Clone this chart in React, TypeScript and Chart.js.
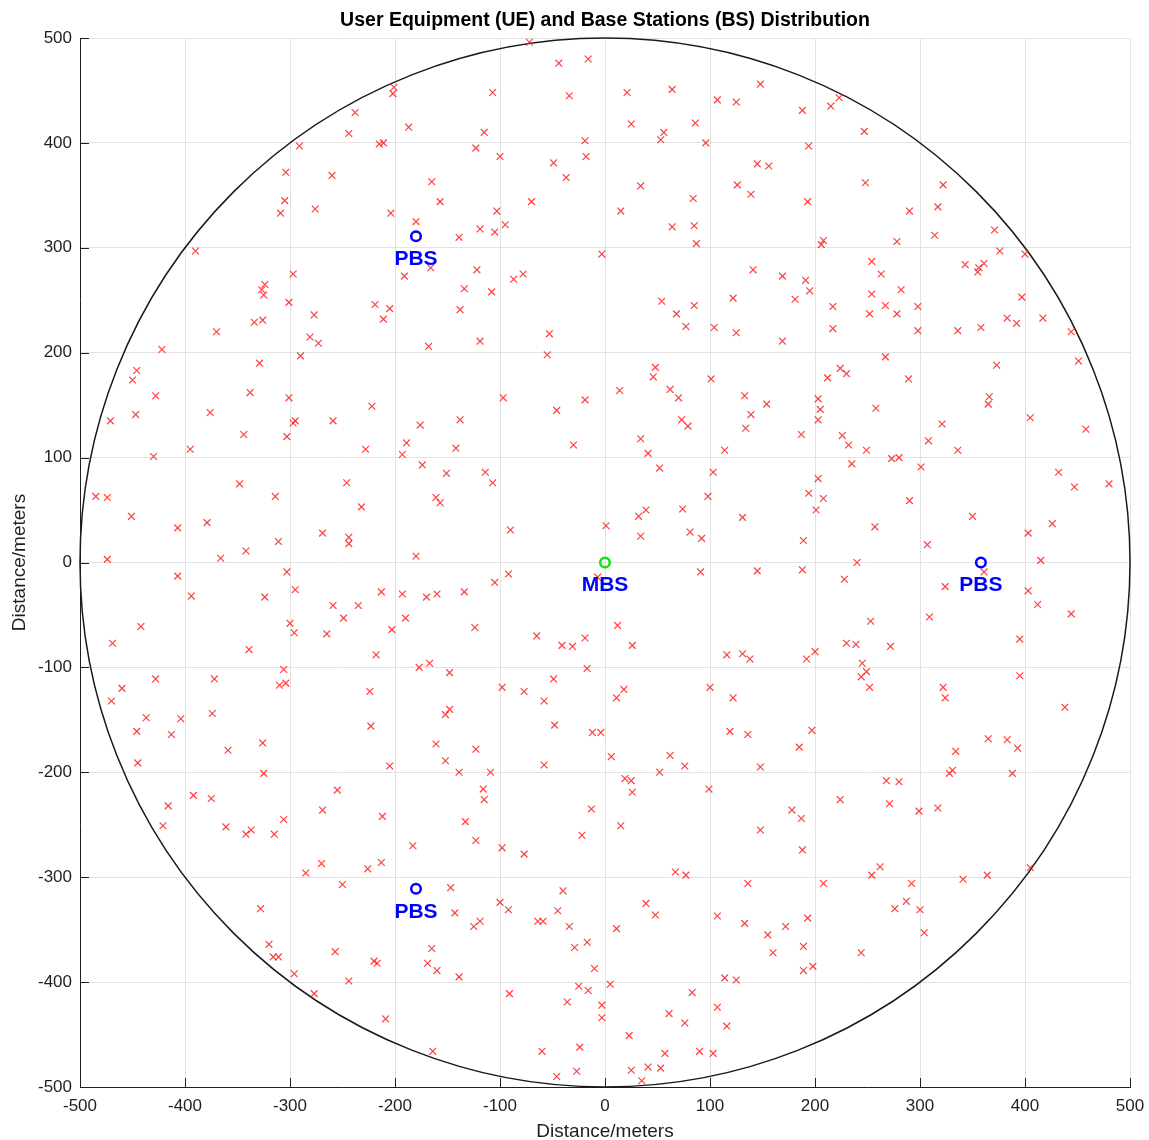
import { useEffect, useRef } from "react";
import { Chart, registerables } from "chart.js";

Chart.register(...registerables);

const TITLE = "User Equipment (UE) and Base Stations (BS) Distribution";
const X_LABEL = "Distance/meters";
const Y_LABEL = "Distance/meters";
const X_TICKS = [-500, -400, -300, -200, -100, 0, 100, 200, 300, 400, 500];
const Y_TICKS = [-500, -400, -300, -200, -100, 0, 100, 200, 300, 400, 500];
const CELL_RADIUS = 500;

const mbsX = [0];
const mbsY = [0];
const mbsLabels = ["MBS"];

const pbsX = [-180, -180, 358];
const pbsY = [311, -311, 0];
const pbsLabels = ["PBS", "PBS", "PBS"];

// UE positions [x, y] in meters
const uePoints: [number, number][] = [
  [-291, 397], [-304, 372], [-260, 369], [-305, 345], [-309, 333], [-276, 337], [-390, 297], [-297, 275],
  [-324, 265], [-327, 260], [-325, 255], [-301, 248], [-277, 236], [-326, 231], [-334, 229], [-370, 220],
  [-281, 215], [-273, 209], [-422, 203], [-290, 197], [-329, 190], [-446, 183], [-450, 174],
  [-72, 496], [-44, 476], [-16, 480], [-201, 453], [-202, 447], [-107, 448], [-34, 445], [-238, 429],
  [-244, 409], [-187, 415], [-115, 410], [-215, 399], [-211, 400], [-123, 395], [-100, 387], [-19, 402],
  [-18, 387], [-49, 381], [-37, 367], [-165, 363], [-157, 344], [-70, 344], [-204, 333], [-103, 335],
  [-180, 325], [-119, 318], [-95, 322], [-105, 315], [-139, 310], [-3, 294], [-166, 281], [-122, 279],
  [-191, 273], [-87, 270], [-78, 275], [-134, 261], [-108, 258], [-219, 246], [-205, 242], [-211, 232],
  [-138, 241], [-53, 218], [-168, 206], [-119, 211], [-55, 198],
  [21, 448], [64, 451], [107, 441], [125, 439], [148, 456], [188, 431], [215, 435], [223, 443],
  [247, 411], [25, 418], [86, 419], [56, 410], [53, 403], [96, 400], [194, 397], [145, 380],
  [156, 378], [248, 362], [34, 359], [126, 360], [139, 351], [84, 347], [193, 344], [15, 335],
  [64, 320], [85, 321], [87, 304], [208, 307], [206, 303], [141, 279], [169, 273], [191, 269],
  [195, 259], [181, 251], [122, 252], [54, 249], [85, 245], [68, 237], [77, 225], [104, 224],
  [125, 219], [169, 211], [217, 244], [217, 223], [48, 186], [46, 177], [101, 175], [224, 185],
  [230, 180], [212, 176],
  [322, 360], [290, 335], [317, 339], [314, 312], [278, 306], [371, 317], [376, 297], [400, 294],
  [254, 287], [263, 275], [343, 284], [361, 285], [356, 281], [355, 277], [282, 260], [254, 256],
  [267, 245], [278, 237], [298, 244], [252, 237], [298, 221], [336, 221], [358, 224], [383, 233],
  [392, 228], [417, 233], [397, 253], [444, 220], [451, 192], [267, 196], [373, 188], [289, 175],
  [-428, 159], [-471, 135], [-447, 141], [-376, 143], [-338, 162], [-301, 157], [-295, 135], [-297, 133],
  [-259, 135], [-344, 122], [-303, 120], [-430, 101], [-395, 108], [-348, 75], [-314, 63], [-485, 63],
  [-474, 62], [-451, 44], [-407, 33], [-379, 38], [-269, 28], [-311, 20], [-342, 11], [-366, 4],
  [-474, 3], [-407, -13], [-303, -9], [-295, -26], [-394, -32], [-324, -33], [-259, -41], [-442, -61],
  [-300, -58], [-296, -67], [-265, -68], [-469, -77], [-339, -83], [-306, -102], [-310, -117], [-304, -115],
  [-428, -111], [-372, -111], [-460, -120], [-470, -132], [-437, -148], [-404, -149], [-374, -144], [-446, -161],
  [-413, -164],
  [-222, 149], [-176, 131], [-138, 136], [-97, 157], [-46, 145], [-19, 155], [-30, 112], [-228, 108],
  [-189, 114], [-193, 103], [-142, 109], [-174, 93], [-151, 85], [-114, 86], [-107, 76], [-246, 76],
  [-232, 53], [-161, 62], [-157, 57], [-244, 24], [-244, 18], [-180, 6], [-90, 31], [1, 35],
  [-92, -11], [-105, -19], [-213, -28], [-193, -30], [-170, -33], [-160, -30], [-134, -28], [-235, -41],
  [-249, -53], [-190, -53], [-203, -64], [-124, -62], [-65, -70], [-41, -79], [-31, -80], [-19, -72],
  [-7, -14], [-218, -88], [-177, -100], [-167, -96], [-148, -105], [-17, -101], [-49, -111], [-98, -119],
  [-77, -123], [-58, -132], [-224, -123], [-148, -140], [-152, -145], [-223, -156], [-48, -155], [-12, -162],
  [-4, -162],
  [14, 164], [62, 165], [70, 157], [133, 159], [154, 151], [203, 156], [205, 146], [203, 136],
  [139, 141], [73, 136], [79, 130], [134, 128], [187, 122], [226, 121], [232, 112], [249, 107],
  [34, 118], [41, 104], [114, 107], [235, 94], [52, 90], [103, 86], [203, 80], [194, 66],
  [208, 61], [98, 63], [201, 50], [32, 44], [39, 50], [74, 51], [131, 43], [34, 25],
  [81, 29], [92, 23], [189, 21], [240, 0], [228, -16], [91, -9], [145, -8], [188, -7],
  [12, -60], [26, -79], [116, -88], [131, -87], [138, -92], [192, -92], [200, -85], [230, -77],
  [239, -78], [245, -96], [249, -104], [244, -109], [18, -121], [11, -129], [100, -119], [122, -129],
  [119, -161], [136, -164], [197, -160],
  [258, 147], [366, 158], [365, 151], [405, 138], [321, 132], [458, 127], [308, 116], [336, 107],
  [273, 99], [280, 100], [301, 91], [432, 86], [447, 72], [480, 75], [290, 59], [350, 44],
  [257, 34], [426, 37], [403, 28], [307, 17], [415, 2], [361, -9], [324, -23], [403, -27],
  [412, -40], [444, -49], [253, -56], [309, -52], [395, -73], [272, -80], [252, -119], [322, -119],
  [324, -129], [395, -108], [438, -138],
  [-445, -191], [-359, -179], [-326, -172], [-325, -201], [-255, -217], [-269, -236], [-392, -222], [-375, -225],
  [-416, -232], [-421, -251], [-361, -252], [-342, -259], [-337, -255], [-315, -259], [-306, -245], [-270, -287],
  [-285, -296], [-250, -307], [-328, -330], [-320, -364], [-316, -376], [-311, -376], [-257, -371], [-296, -392],
  [-277, -411],
  [-161, -173], [-123, -178], [-152, -189], [-205, -194], [-139, -200], [-109, -200], [-58, -193], [-116, -216],
  [-115, -226], [-212, -242], [-133, -247], [-123, -265], [-13, -235], [-22, -260], [-183, -270], [-98, -272],
  [-77, -278], [-226, -292], [-213, -286], [-147, -310], [-40, -313], [-100, -324], [-92, -331], [-143, -334],
  [-125, -347], [-119, -342], [-64, -342], [-59, -342], [-45, -332], [-34, -347], [-17, -362], [-29, -367],
  [-165, -368], [-220, -380], [-217, -382], [-169, -382], [-160, -389], [-139, -395], [-244, -399], [-10, -387],
  [-91, -411], [-25, -404], [-16, -408], [-36, -419], [-3, -422], [-3, -434], [-209, -435], [-164, -466],
  [-60, -466], [-24, -462], [-27, -485], [-46, -490],
  [6, -185], [62, -184], [76, -194], [185, -176], [52, -200], [19, -206], [25, -208], [26, -219],
  [99, -216], [148, -195], [224, -226], [178, -236], [187, -244], [15, -251], [148, -255], [188, -274],
  [67, -295], [77, -298], [136, -306], [208, -306], [39, -325], [48, -336], [107, -337], [193, -339],
  [11, -349], [133, -344], [172, -347], [155, -355], [189, -366], [160, -372], [244, -372], [189, -389],
  [198, -385], [5, -402], [114, -396], [125, -398], [83, -410], [61, -430], [76, -439], [107, -424],
  [116, -442], [23, -451], [57, -468], [90, -466], [103, -468], [25, -484], [41, -481], [53, -482],
  [35, -494],
  [365, -168], [383, -169], [393, -177], [334, -180], [328, -201], [331, -198], [388, -201], [268, -208],
  [280, -209], [271, -230], [299, -237], [317, -234], [262, -290], [254, -298], [292, -306], [341, -302],
  [364, -298], [405, -291], [287, -323], [276, -330], [300, -331], [304, -353],
];

const FONT = '"Liberation Sans", Arial, Helvetica, sans-serif';
const AXIS_COLOR = "#1f1f1f";
const GRID_COLOR = "#e2e2e2";

const decorPlugin = {
  id: "decor",
  beforeDatasetsDraw(chart: any) {
    const { ctx, scales } = chart;
    const x = scales.x;
    const y = scales.y;
    const cx = x.getPixelForValue(0);
    const cy = y.getPixelForValue(0);
    const rx = x.getPixelForValue(CELL_RADIUS) - cx;
    const ry = cy - y.getPixelForValue(CELL_RADIUS);
    ctx.save();
    ctx.beginPath();
    ctx.ellipse(cx, cy, rx, ry, 0, 0, Math.PI * 2);
    ctx.strokeStyle = "#1a1a1a";
    ctx.lineWidth = 1.5;
    ctx.stroke();
    ctx.restore();
  },
  afterDatasetsDraw(chart: any) {
    const { ctx, scales } = chart;
    const x = scales.x;
    const y = scales.y;
    ctx.save();
    ctx.font = `bold 21px ${FONT}`;
    ctx.fillStyle = "rgb(0,0,255)";
    ctx.textAlign = "center";
    ctx.textBaseline = "middle";
    mbsX.forEach((v, i) => {
      ctx.fillText(mbsLabels[i], x.getPixelForValue(v), y.getPixelForValue(mbsY[i]) + 23);
    });
    pbsX.forEach((v, i) => {
      ctx.fillText(pbsLabels[i], x.getPixelForValue(v), y.getPixelForValue(pbsY[i]) + 23);
    });
    ctx.restore();
  },
  afterDraw(chart: any) {
    const { ctx, scales, chartArea } = chart;
    const x = scales.x;
    const y = scales.y;
    ctx.save();
    ctx.strokeStyle = AXIS_COLOR;
    ctx.lineWidth = 1;
    ctx.beginPath();
    X_TICKS.forEach((v) => {
      const px = Math.round(x.getPixelForValue(v)) + 0.5;
      ctx.moveTo(px, chartArea.bottom);
      ctx.lineTo(px, chartArea.bottom - 9);
    });
    Y_TICKS.forEach((v) => {
      const py = Math.round(y.getPixelForValue(v)) + 0.5;
      ctx.moveTo(chartArea.left, py);
      ctx.lineTo(chartArea.left + 9, py);
    });
    ctx.stroke();
    ctx.font = `bold 19.5px ${FONT}`;
    ctx.fillStyle = "#000";
    ctx.textAlign = "center";
    ctx.textBaseline = "middle";
    ctx.fillText(TITLE, (chartArea.left + chartArea.right) / 2, 21);
    ctx.restore();
  },
};

export default function App() {
  const canvasRef = useRef<HTMLCanvasElement | null>(null);

  useEffect(() => {
    if (!canvasRef.current) return;
    const chart = new Chart(canvasRef.current, {
      type: "scatter",
      data: {
        datasets: [
          {
            label: "MBS",
            data: mbsX.map((v, i) => ({ x: v, y: mbsY[i] })),
            pointStyle: "circle",
            pointRadius: 4.8,
            borderWidth: 2.5,
            borderColor: "rgb(20,225,20)",
            backgroundColor: "rgba(0,0,0,0)",
            order: 0,
          },
          {
            label: "PBS",
            data: pbsX.map((v, i) => ({ x: v, y: pbsY[i] })),
            pointStyle: "circle",
            pointRadius: 4.8,
            borderWidth: 2.5,
            borderColor: "rgb(0,0,255)",
            backgroundColor: "rgba(0,0,0,0)",
            order: 0,
          },
          {
            label: "UE",
            data: uePoints.map(([px, py]) => ({ x: px, y: py })),
            pointStyle: "crossRot",
            pointRadius: 4.8,
            borderWidth: 1.2,
            borderColor: "rgba(255,30,30,0.85)",
            backgroundColor: "rgba(255,30,30,0.85)",
            order: 1,
          },
        ],
      },
      options: {
        responsive: false,
        animation: false,
        devicePixelRatio: 1,
        layout: { padding: { top: 38, right: 19, bottom: 0, left: 0 } },
        plugins: {
          legend: { display: false },
          tooltip: { enabled: false },
          title: { display: false },
        },
        scales: {
          x: {
            type: "linear",
            min: -500,
            max: 500,
            afterBuildTicks: (s: any) => {
              s.ticks = X_TICKS.map((v) => ({ value: v }));
            },
            afterFit: (s: any) => {
              s.height = 53;
              s.paddingLeft = 0;
              s.paddingRight = 0;
            },
            ticks: {
              font: { family: FONT, size: 17 },
              color: AXIS_COLOR,
              padding: 9,
              maxRotation: 0,
              autoSkip: false,
              callback: (v: any) => String(v),
            },
            grid: { color: GRID_COLOR, drawTicks: false, lineWidth: 1 },
            border: { display: true, color: AXIS_COLOR, width: 1 },
            title: {
              display: true,
              text: X_LABEL,
              color: AXIS_COLOR,
              font: { family: FONT, size: 19, lineHeight: 1 },
              padding: { top: 0, bottom: -1 },
            },
          },
          y: {
            type: "linear",
            min: -500,
            max: 500,
            afterBuildTicks: (s: any) => {
              s.ticks = Y_TICKS.map((v) => ({ value: v }));
            },
            afterFit: (s: any) => {
              s.width = 80;
              s.paddingTop = 0;
              s.paddingBottom = 0;
            },
            ticks: {
              font: { family: FONT, size: 17 },
              color: AXIS_COLOR,
              padding: 8,
              autoSkip: false,
              callback: (v: any) => String(v),
            },
            grid: { color: GRID_COLOR, drawTicks: false, lineWidth: 1 },
            border: { display: true, color: AXIS_COLOR, width: 1 },
            title: {
              display: true,
              text: Y_LABEL,
              color: AXIS_COLOR,
              font: { family: FONT, size: 19, lineHeight: 1 },
              padding: { top: 10, bottom: 0 },
            },
          },
        },
      },
      plugins: [decorPlugin],
    });
    return () => chart.destroy();
  }, []);

  return (
    <div style={{ position: "absolute", left: 0, top: 0, width: 1149, height: 1140, background: "#fff" }}>
      <canvas ref={canvasRef} width={1149} height={1140} style={{ display: "block" }} />
    </div>
  );
}
